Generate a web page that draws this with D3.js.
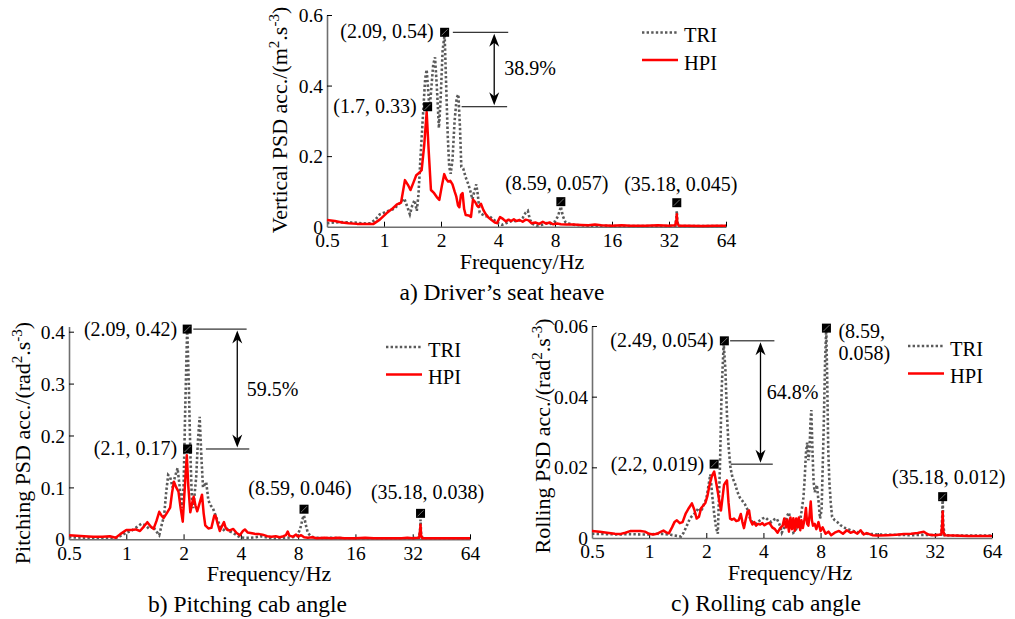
<!DOCTYPE html>
<html><head><meta charset="utf-8">
<script src="https://cdn.jsdelivr.net/npm/d3@7"></script>
<style>
html,body{margin:0;padding:0;background:#fff;}
svg, svg text{font-family:"Liberation Serif","DejaVu Serif","Times New Roman",Times,serif !important;}
svg{display:block;}
</style></head><body>
<svg id="chart" width="1015" height="619"></svg>
<script>
// ---------- DATA ----------
const xTicks = [0.5, 1, 2, 4, 8, 16, 32, 64];
const xTickLabels = ["0.5", "1", "2", "4", "8", "16", "32", "64"];
const seriesNames = ["TRI", "HPI"];

// a) Driver's seat heave  [frequency Hz, PSD]
const aYTicks = [0, 0.2, 0.4, 0.6];
const aYTickLabels = ["0", "0.2", "0.4", "0.6"];
const aTRI = [[0.5,0.01],[0.55,0.012],[0.6,0.013],[0.65,0.012],[0.7,0.012],[0.75,0.01],[0.8,0.009],[0.85,0.01],[0.9,0.02],[0.95,0.035],[1.0,0.04],[1.06,0.045],[1.12,0.05],[1.18,0.06],[1.24,0.072],[1.28,0.08],[1.33,0.055],[1.37,0.035],[1.41,0.06],[1.45,0.075],[1.49,0.045],[1.52,0.09],[1.56,0.2],[1.6,0.3],[1.65,0.42],[1.68,0.445],[1.71,0.39],[1.74,0.33],[1.77,0.38],[1.82,0.46],[1.86,0.48],[1.9,0.4],[1.95,0.28],[1.99,0.36],[2.04,0.5],[2.09,0.545],[2.13,0.4],[2.17,0.26],[2.21,0.17],[2.25,0.15],[2.3,0.19],[2.36,0.3],[2.42,0.365],[2.47,0.375],[2.52,0.28],[2.56,0.17],[2.62,0.165],[2.7,0.14],[2.79,0.12],[2.86,0.1],[2.93,0.078],[3.0,0.1],[3.07,0.12],[3.13,0.09],[3.2,0.04],[3.3,0.035],[3.45,0.03],[3.6,0.03],[3.8,0.02],[4.0,0.01],[4.2,0.005],[4.4,0.01],[4.6,0.014],[4.8,0.018],[5.0,0.015],[5.2,0.018],[5.4,0.025],[5.6,0.04],[5.75,0.045],[5.9,0.02],[6.1,0.008],[6.4,0.003],[6.8,0.005],[7.2,0.01],[7.6,0.008],[8.0,0.015],[8.3,0.03],[8.59,0.057],[8.8,0.03],[9.1,0.012],[9.6,0.008],[10.2,0.005],[11,0.004],[12,0.003],[14,0.003],[16,0.002],[20,0.002],[24,0.002],[28,0.002],[32,0.002],[34.6,0.003],[35.0,0.025],[35.18,0.045],[35.4,0.015],[36,0.002],[40,0.002],[48,0.002],[56,0.002],[64,0.002]];
const aHPI = [[0.5,0.019],[0.55,0.016],[0.6,0.012],[0.65,0.01],[0.72,0.008],[0.8,0.008],[0.88,0.008],[0.95,0.02],[1.03,0.038],[1.1,0.05],[1.17,0.063],[1.23,0.068],[1.29,0.132],[1.34,0.118],[1.38,0.104],[1.43,0.125],[1.48,0.146],[1.53,0.152],[1.58,0.16],[1.63,0.23],[1.68,0.325],[1.72,0.22],[1.77,0.104],[1.84,0.095],[1.9,0.084],[1.96,0.076],[2.02,0.115],[2.08,0.149],[2.13,0.135],[2.18,0.128],[2.24,0.13],[2.3,0.12],[2.36,0.1],[2.41,0.085],[2.46,0.06],[2.5,0.055],[2.55,0.09],[2.6,0.095],[2.65,0.05],[2.7,0.033],[2.8,0.032],[2.88,0.028],[2.95,0.077],[3.03,0.07],[3.1,0.06],[3.15,0.056],[3.25,0.065],[3.35,0.047],[3.45,0.035],[3.55,0.027],[3.7,0.019],[3.85,0.012],[3.95,0.01],[4.1,0.027],[4.25,0.022],[4.4,0.015],[4.55,0.02],[4.7,0.016],[4.85,0.021],[5.0,0.016],[5.2,0.019],[5.4,0.014],[5.6,0.02],[5.8,0.018],[6.0,0.01],[6.3,0.012],[6.6,0.008],[6.9,0.014],[7.2,0.009],[7.5,0.012],[7.8,0.007],[8.2,0.009],[8.6,0.007],[9.2,0.006],[10,0.006],[11,0.005],[12,0.004],[13,0.006],[14,0.004],[16,0.003],[18,0.004],[20,0.003],[24,0.003],[28,0.004],[32,0.003],[34.5,0.004],[35.0,0.02],[35.18,0.035],[35.4,0.01],[36,0.003],[40,0.003],[48,0.002],[56,0.003],[64,0.003]];
const aMarkers = [[2.09,0.551],[1.7,0.34],[8.59,0.071],[35.18,0.068]];
const aLabels = ["(2.09, 0.54)", "(1.7, 0.33)", "(8.59, 0.057)", "(35.18, 0.045)"];
const aReduction = "38.9%";

// b) Pitching cab angle
const bYTicks = [0, 0.1, 0.2, 0.3, 0.4];
const bYTickLabels = ["0", "0.1", "0.2", "0.3", "0.4"];
const bTRI = [[0.5,0.004],[0.6,0.003],[0.7,0.003],[0.8,0.003],[0.89,0.003],[0.95,0.008],[1.0,0.013],[1.06,0.016],[1.12,0.022],[1.2,0.03],[1.26,0.027],[1.32,0.02],[1.38,0.025],[1.44,0.015],[1.49,0.008],[1.54,0.03],[1.58,0.045],[1.62,0.09],[1.66,0.124],[1.7,0.12],[1.75,0.1],[1.8,0.12],[1.86,0.137],[1.91,0.1],[1.96,0.06],[2.0,0.1],[2.04,0.25],[2.09,0.41],[2.13,0.3],[2.17,0.17],[2.21,0.08],[2.25,0.06],[2.29,0.09],[2.33,0.12],[2.38,0.19],[2.43,0.236],[2.48,0.16],[2.53,0.1],[2.58,0.105],[2.63,0.11],[2.7,0.075],[2.78,0.065],[2.85,0.06],[2.92,0.05],[3.0,0.038],[3.08,0.03],[3.15,0.022],[3.25,0.018],[3.35,0.022],[3.5,0.015],[3.65,0.012],[3.8,0.008],[3.95,0.004],[4.2,0.003],[4.5,0.003],[4.8,0.004],[5.1,0.006],[5.4,0.004],[5.7,0.002],[6.0,0.001],[6.5,0.002],[7.0,0.003],[7.5,0.004],[7.9,0.006],[8.2,0.02],[8.45,0.04],[8.59,0.046],[8.75,0.03],[9.0,0.012],[9.4,0.005],[10,0.003],[11,0.002],[12,0.003],[14,0.002],[16,0.002],[20,0.002],[24,0.002],[28,0.002],[32,0.002],[34.6,0.003],[35.0,0.02],[35.18,0.038],[35.4,0.012],[36,0.002],[40,0.002],[48,0.002],[56,0.002],[64,0.002]];
const bHPI = [[0.5,0.008],[0.55,0.007],[0.6,0.006],[0.67,0.005],[0.75,0.005],[0.82,0.006],[0.88,0.003],[0.93,0.01],[1.0,0.018],[1.06,0.018],[1.12,0.019],[1.18,0.016],[1.24,0.025],[1.29,0.033],[1.34,0.025],[1.39,0.02],[1.44,0.035],[1.49,0.053],[1.53,0.046],[1.57,0.041],[1.63,0.05],[1.7,0.061],[1.74,0.09],[1.78,0.111],[1.83,0.1],[1.88,0.092],[1.93,0.06],[1.98,0.034],[2.03,0.1],[2.08,0.162],[2.12,0.1],[2.17,0.052],[2.22,0.07],[2.26,0.082],[2.31,0.065],[2.36,0.054],[2.43,0.07],[2.5,0.086],[2.55,0.05],[2.6,0.027],[2.7,0.021],[2.8,0.022],[2.9,0.046],[2.95,0.045],[3.02,0.03],[3.1,0.016],[3.18,0.025],[3.26,0.033],[3.33,0.022],[3.4,0.018],[3.5,0.017],[3.65,0.02],[3.8,0.012],[3.95,0.008],[4.1,0.016],[4.2,0.019],[4.35,0.013],[4.5,0.012],[4.65,0.011],[4.8,0.01],[5.0,0.01],[5.2,0.009],[5.5,0.006],[5.8,0.005],[6.1,0.006],[6.4,0.004],[6.7,0.006],[6.9,0.008],[7.05,0.015],[7.2,0.007],[7.5,0.005],[7.8,0.009],[8.0,0.005],[8.3,0.008],[8.6,0.004],[9.0,0.003],[9.5,0.004],[10,0.002],[11,0.003],[12,0.002],[13,0.003],[14,0.002],[16,0.002],[18,0.003],[20,0.002],[24,0.002],[28,0.002],[30,0.003],[32,0.002],[34.6,0.003],[35.0,0.018],[35.18,0.028],[35.4,0.008],[36,0.002],[40,0.002],[48,0.002],[56,0.002],[64,0.002]];
const bMarkers = [[2.09,0.405],[2.1,0.174],[8.59,0.058],[35.18,0.05]];
const bLabels = ["(2.09, 0.42)", "(2.1, 0.17)", "(8.59, 0.046)", "(35.18, 0.038)"];
const bReduction = "59.5%";

// c) Rolling cab angle
const cYTicks = [0, 0.02, 0.04, 0.06];
const cYTickLabels = ["0", "0.02", "0.04", "0.06"];
const cTRI = [[0.5,0.0012],[0.6,0.0011],[0.7,0.001],[0.8,0.0011],[0.9,0.001],[1.0,0.001],[1.1,0.0012],[1.2,0.0011],[1.3,0.0009],[1.4,0.0006],[1.47,0.0004],[1.52,0.0015],[1.58,0.0035],[1.64,0.0055],[1.7,0.0065],[1.76,0.0072],[1.82,0.0085],[1.88,0.0075],[1.94,0.0095],[2.0,0.011],[2.05,0.0145],[2.1,0.018],[2.15,0.012],[2.2,0.007],[2.25,0.003],[2.3,0.0012],[2.36,0.02],[2.41,0.042],[2.47,0.055],[2.52,0.048],[2.57,0.035],[2.62,0.026],[2.68,0.02],[2.75,0.017],[2.83,0.0155],[2.92,0.013],[3.0,0.0115],[3.1,0.0105],[3.2,0.0095],[3.3,0.008],[3.4,0.0055],[3.5,0.0045],[3.6,0.004],[3.7,0.0042],[3.8,0.0048],[3.95,0.0055],[4.1,0.0058],[4.25,0.005],[4.4,0.0045],[4.55,0.0052],[4.7,0.0055],[4.85,0.004],[5.0,0.0015],[5.15,0.003],[5.3,0.006],[5.45,0.0072],[5.6,0.004],[5.75,0.0015],[5.9,0.002],[6.05,0.0035],[6.2,0.004],[6.35,0.0075],[6.5,0.0115],[6.6,0.017],[6.7,0.024],[6.8,0.027],[6.9,0.022],[7.0,0.025],[7.08,0.033],[7.15,0.0362],[7.25,0.025],[7.35,0.016],[7.45,0.013],[7.55,0.014],[7.65,0.015],[7.75,0.012],[7.85,0.009],[7.95,0.0055],[8.1,0.008],[8.3,0.03],[8.45,0.05],[8.57,0.0594],[8.67,0.045],[8.78,0.025],[8.9,0.016],[9.05,0.01],[9.2,0.006],[9.5,0.005],[9.8,0.0045],[10.2,0.0036],[10.8,0.0028],[11.5,0.0022],[12.2,0.0018],[13,0.0015],[14,0.0012],[16,0.001],[18,0.0009],[20,0.0009],[24,0.0008],[28,0.0009],[32,0.0008],[34.6,0.001],[35.0,0.006],[35.18,0.012],[35.4,0.004],[36,0.0008],[40,0.0007],[48,0.0007],[56,0.0007],[64,0.0007]];
const cHPI = [[0.5,0.002],[0.55,0.0018],[0.6,0.0015],[0.66,0.0012],[0.7,0.0011],[0.75,0.0015],[0.8,0.002],[0.85,0.002],[0.9,0.002],[0.95,0.0018],[1.0,0.0012],[1.05,0.001],[1.1,0.0012],[1.15,0.0017],[1.19,0.0021],[1.23,0.0016],[1.27,0.0013],[1.32,0.003],[1.36,0.0045],[1.4,0.005],[1.45,0.0042],[1.5,0.0045],[1.56,0.007],[1.62,0.0085],[1.68,0.0098],[1.73,0.008],[1.78,0.0055],[1.83,0.006],[1.88,0.0085],[1.93,0.0092],[1.98,0.01],[2.03,0.012],[2.08,0.015],[2.14,0.0175],[2.2,0.0188],[2.25,0.016],[2.3,0.013],[2.35,0.01],[2.39,0.0078],[2.43,0.011],[2.48,0.015],[2.53,0.0158],[2.57,0.0163],[2.62,0.01],[2.67,0.0055],[2.73,0.0052],[2.8,0.0055],[2.88,0.0048],[2.96,0.005],[3.04,0.0068],[3.1,0.0045],[3.16,0.0028],[3.22,0.005],[3.3,0.0075],[3.36,0.0078],[3.42,0.005],[3.5,0.0038],[3.58,0.0045],[3.66,0.0035],[3.75,0.004],[3.85,0.0038],[3.95,0.0042],[4.05,0.0036],[4.15,0.004],[4.3,0.0043],[4.45,0.003],[4.6,0.0025],[4.75,0.0015],[4.9,0.0028],[5.05,0.0035],[5.15,0.0055],[5.25,0.003],[5.35,0.0052],[5.45,0.0018],[5.55,0.0058],[5.65,0.0025],[5.75,0.0056],[5.85,0.002],[5.95,0.0055],[6.05,0.003],[6.15,0.0058],[6.25,0.0022],[6.35,0.005],[6.45,0.0028],[6.6,0.0055],[6.7,0.0085],[6.8,0.004],[6.9,0.0035],[7.0,0.0065],[7.1,0.0103],[7.2,0.005],[7.3,0.0035],[7.45,0.004],[7.6,0.0025],[7.8,0.0045],[8.0,0.002],[8.2,0.003],[8.5,0.0012],[8.8,0.0018],[9.1,0.0008],[9.5,0.0015],[10,0.002],[10.5,0.0012],[11,0.0022],[11.5,0.0015],[12,0.0018],[12.5,0.0012],[13,0.0022],[13.5,0.001],[14,0.0014],[15,0.0008],[16,0.0007],[18,0.0008],[20,0.0009],[22,0.0011],[24,0.0012],[26,0.0014],[28,0.0018],[29,0.0012],[30,0.0009],[32,0.0008],[34.6,0.001],[35.0,0.004],[35.18,0.0075],[35.4,0.002],[36,0.0008],[40,0.0007],[48,0.0006],[56,0.0006],[64,0.0006]];
const cMarkers = [[2.49,0.0558],[2.2,0.0209],[8.59,0.0594],[35.18,0.0117]];
const cLabels = ["(2.49, 0.054)", "(2.2, 0.019)", "(8.59,|0.058)", "(35.18, 0.012)"];
const cReduction = "64.8%";

// ---------- DRAWING ----------
const FONT = '"Liberation Serif","DejaVu Serif","Times New Roman",Times,serif';
const svg = d3.select("#chart").attr("font-family", FONT);
const TRI_COLOR = "#5a5a5a", HPI_COLOR = "#ff0000", AXIS_COLOR = "#6f6f6f";

function txt(g) {
  return g.append("text").attr("font-family", FONT).attr("fill", "#000");
}

function panel(p) {
  const x = d3.scaleLog().base(2).domain([0.5, 64]).range([p.left, p.right]);
  const y = d3.scaleLinear().domain([0, p.yMax]).range([p.bottom, p.top]);
  const g = svg.append("g");

  // axes
  const xa = g.append("g").attr("transform", `translate(0,${p.bottom})`)
    .call(d3.axisBottom(x).tickValues(xTicks).tickFormat((d, i) => xTickLabels[i])
      .tickSize(-5).tickSizeOuter(0).tickPadding(6.5));
  const ya = g.append("g").attr("transform", `translate(${p.left},0)`)
    .call(d3.axisLeft(y).tickValues(p.yTicks).tickFormat((d, i) => p.yTickLabels[i])
      .tickSize(-5).tickSizeOuter(0).tickPadding(4));
  [xa, ya].forEach(a => {
    a.attr("font-family", FONT).attr("font-size", 19.5);
    a.select(".domain").attr("stroke", AXIS_COLOR).attr("stroke-width", 1.6);
    a.selectAll(".tick line").attr("stroke", "#000").attr("stroke-width", 1);
    a.selectAll(".tick text").attr("fill", "#000");
  });
  ya.selectAll(".tick text").attr("dy", "0.34em");
  xa.selectAll(".tick line").filter(d => d === 0.5).remove();
  ya.selectAll(".tick line").filter(d => d === 0).remove();

  // lines
  const line = d3.line().x(d => x(d[0])).y(d => y(d[1]));
  g.append("path").datum(p.tri).attr("d", line).attr("fill", "none")
    .attr("stroke", TRI_COLOR).attr("stroke-width", 2.6).attr("stroke-dasharray", "2.4,2.2")
    .attr("stroke-linejoin", "miter");
  g.append("path").datum(p.hpi).attr("d", line).attr("fill", "none")
    .attr("stroke", HPI_COLOR).attr("stroke-width", 2.5).attr("stroke-linejoin", "round");

  // reduction annotation
  const an = p.ann;
  const yU = y(p.markers[0][1]), yL = y(p.markers[1][1]);
  g.append("line").attr("x1", x(an.upper[0])).attr("x2", x(an.upper[1]))
    .attr("y1", yU).attr("y2", yU).attr("stroke", "#000").attr("stroke-width", 1);
  g.append("line").attr("x1", x(an.lower[0])).attr("x2", x(an.lower[1]))
    .attr("y1", yL).attr("y2", yL).attr("stroke", "#000").attr("stroke-width", 1);
  const ax = x(an.arrow), t = yU + 1.5, b = yL - 1.5;
  g.append("line").attr("x1", ax).attr("x2", ax).attr("y1", t + 6).attr("y2", b - 6)
    .attr("stroke", "#000").attr("stroke-width", 1.3);
  g.append("path").attr("d", `M${ax},${t} L${ax-5},${t+13} L${ax},${t+9} L${ax+5},${t+13} Z`).attr("fill", "#000");
  g.append("path").attr("d", `M${ax},${b} L${ax-5},${b-13} L${ax},${b-9} L${ax+5},${b-13} Z`).attr("fill", "#000");
  txt(g).attr("x", x(an.text[0])).attr("y", y(an.text[1])).attr("font-size", 20).text(p.reduction);

  // markers
  p.markers.forEach((m, i) => {
    const mx = x(m[0]), my = y(m[1]);
    g.append("rect").attr("x", mx - 4.5).attr("y", my - 4.5).attr("width", 9).attr("height", 9)
      .attr("fill", "#000");
    g.append("line").attr("x1", mx - 3).attr("y1", my + 3).attr("x2", mx + 3).attr("y2", my - 3)
      .attr("stroke", "#8a8a8a").attr("stroke-width", 0.8);
    const L = p.labelPos[i];
    p.labels[i].split("|").forEach((s, k) => {
      txt(g).attr("x", mx + L.dx).attr("y", my + L.dy + k * 21.5)
        .attr("text-anchor", L.anchor).attr("font-size", 20).text(s);
    });
  });

  // legend
  const lx = p.right - 84;
  [[seriesNames[0], TRI_COLOR, "2.4,2.2"], [seriesNames[1], HPI_COLOR, null]].forEach((s, i) => {
    const ly = p.top + p.legTop + i * 27.5;
    const l = g.append("line").attr("x1", lx).attr("x2", lx + 36).attr("y1", ly).attr("y2", ly)
      .attr("stroke", s[1]).attr("stroke-width", 2.6);
    if (s[2]) l.attr("stroke-dasharray", s[2]);
    txt(g).attr("x", lx + 42).attr("y", ly + 9.5).attr("font-size", 20.5).text(s[0]);
  });

  // axis titles
  txt(g).attr("x", p.xTitle[0]).attr("y", p.xTitle[1]).attr("text-anchor", "middle")
    .attr("font-size", 22).text("Frequency/Hz");
  const yt = txt(g).attr("transform", `translate(${p.yTitle[0]},${p.yTitle[1]}) rotate(-90)`)
    .attr("text-anchor", "middle").attr("font-size", 22);
  yt.append("tspan").text(p.yTitleText + " acc./(" + p.unit);
  yt.append("tspan").attr("dy", -8).attr("font-size", 15).text("2");
  yt.append("tspan").attr("dy", 8).text(".s");
  yt.append("tspan").attr("dy", -8).attr("font-size", 15).text("-3");
  yt.append("tspan").attr("dy", 8).text(")");

  txt(g).attr("x", p.caption[0]).attr("y", p.caption[1]).attr("text-anchor", "middle")
    .attr("font-size", 23.5).text(p.captionText);
}

panel({
  left: 327, right: 726, top: 15, bottom: 226.7, yMax: 0.6,
  yTicks: aYTicks, yTickLabels: aYTickLabels, tri: aTRI, hpi: aHPI,
  markers: aMarkers, labels: aLabels, reduction: aReduction,
  labelPos: [{dx:-11,dy:6,anchor:"end"},{dx:-11,dy:6.5,anchor:"end"},{dx:-4,dy:-12,anchor:"middle"},{dx:4,dy:-12,anchor:"middle"}],
  ann: {upper:[2.31,4.53], lower:[2.57,4.47], arrow:3.82, text:[4.32,0.43]},
  legTop: 17.5,
  xTitle: [522, 269], yTitle: [287, 120], yTitleText: "Vertical PSD", unit: "m",
  caption: [502, 300], captionText: "a) Driver\u2019s seat heave"
});
panel({
  left: 69, right: 470, top: 326.5, bottom: 539.3, yMax: 0.41,
  yTicks: bYTicks, yTickLabels: bYTickLabels, tri: bTRI, hpi: bHPI,
  markers: bMarkers, labels: bLabels, reduction: bReduction,
  labelPos: [{dx:-10,dy:7,anchor:"end"},{dx:-10.5,dy:6.5,anchor:"end"},{dx:-4,dy:-14,anchor:"middle"},{dx:7,dy:-14,anchor:"middle"}],
  ann: {upper:[2.25,4.29], lower:[2.62,4.43], arrow:3.83, text:[4.29,0.276]},
  legTop: 20.5,
  xTitle: [269, 580.5], yTitle: [30, 443], yTitleText: "Pitching PSD", unit: "rad",
  caption: [247.5, 611.5], captionText: "b) Pitching cab angle"
});
panel({
  left: 592, right: 992, top: 326, bottom: 538, yMax: 0.06,
  yTicks: cYTicks, yTickLabels: cYTickLabels, tri: cTRI, hpi: cHPI,
  markers: cMarkers, labels: cLabels, reduction: cReduction,
  labelPos: [{dx:-10.7,dy:6,anchor:"end"},{dx:-10,dy:6.5,anchor:"end"},{dx:12,dy:10,anchor:"start"},{dx:6,dy:-13,anchor:"middle"}],
  ann: {upper:[2.67,4.57], lower:[2.69,4.48], arrow:3.86, text:[4.17,0.0393]},
  legTop: 20,
  xTitle: [790, 580], yTitle: [550, 436], yTitleText: "Rolling PSD", unit: "rad",
  caption: [766, 610.5], captionText: "c) Rolling cab angle"
});
</script>
</body></html>
